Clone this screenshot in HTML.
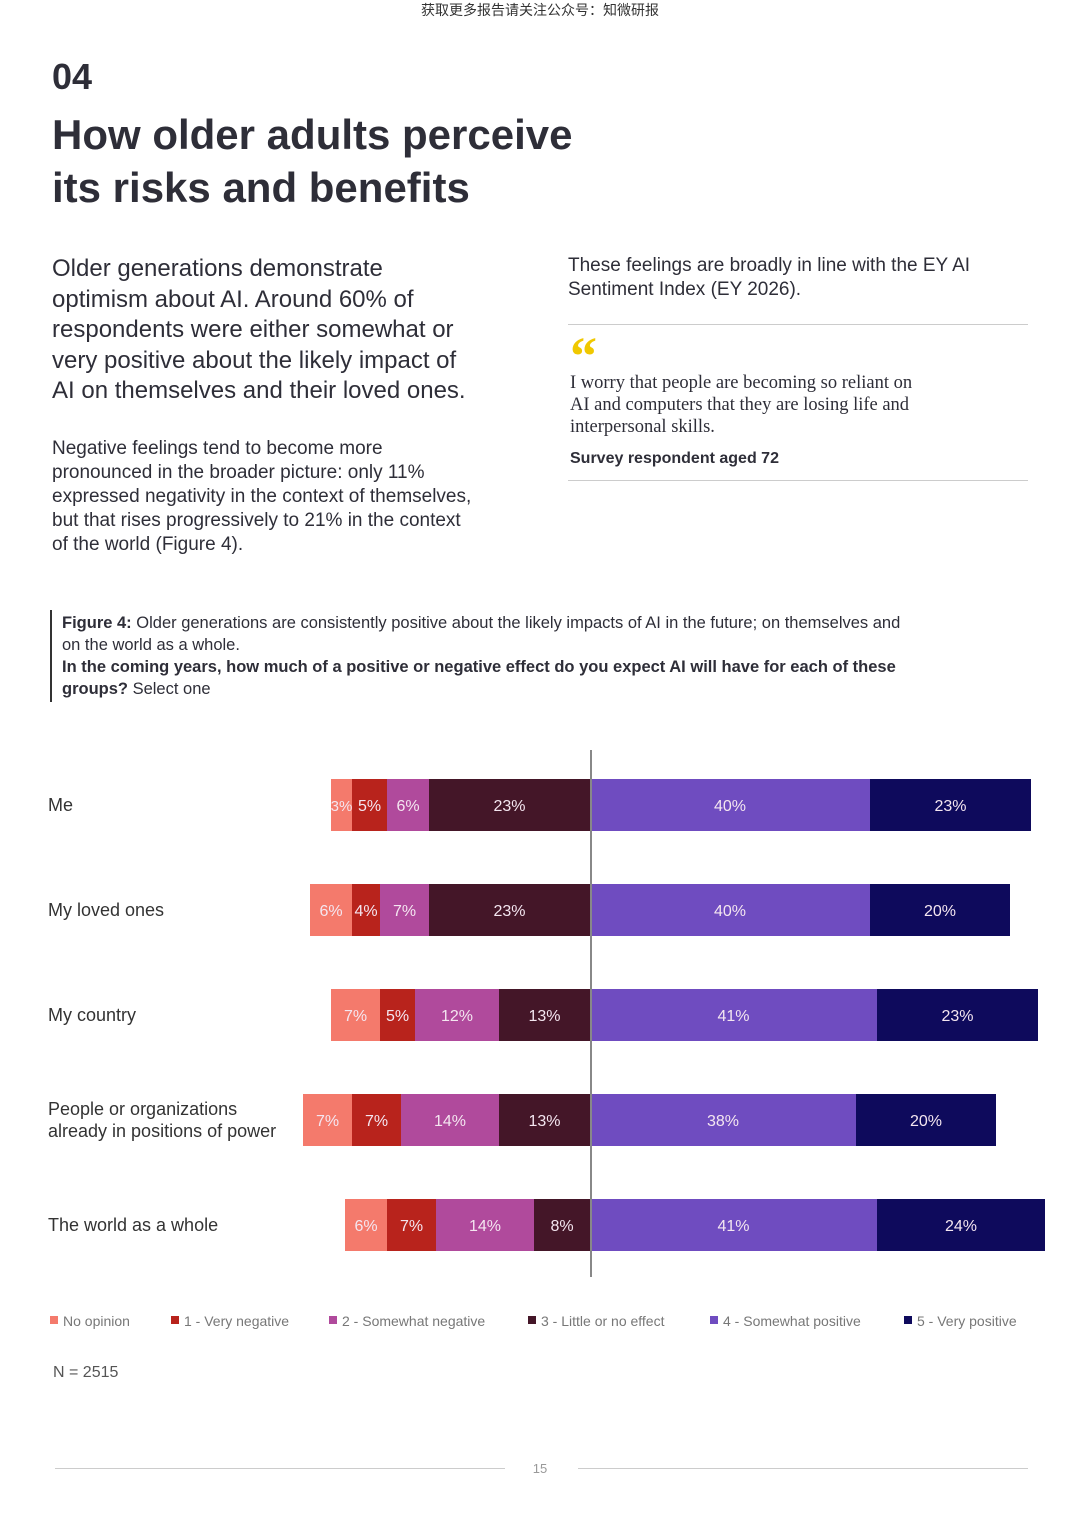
<!DOCTYPE html>
<html><head><meta charset="utf-8"><style>
*{margin:0;padding:0;box-sizing:border-box}
body{width:1080px;height:1527px;background:#fff;font-family:"Liberation Sans","Noto Sans CJK SC",sans-serif;color:#2e2e38;position:relative;overflow:hidden}
.a{position:absolute;white-space:nowrap}
</style></head><body>
<div class="a" style="left:0;width:1080px;top:0;text-align:center;font-size:14px;color:#333">获取更多报告请关注公众号：知微研报</div>
<div class="a" style="left:52px;top:56px;font-size:36px;font-weight:bold">04</div>
<div class="a" style="left:52px;top:108px;font-size:42px;font-weight:bold;line-height:53px">How older adults perceive<br>its risks and benefits</div>
<div class="a" style="left:52px;top:254px;font-size:24px;line-height:30.5px">Older generations demonstrate<br>optimism about AI. Around 60% of<br>respondents were either somewhat or<br>very positive about the likely impact of<br>AI on themselves and their loved ones.</div>
<div class="a" style="left:52px;top:437px;font-size:19px;line-height:24px">Negative feelings tend to become more<br>pronounced in the broader picture: only 11%<br>expressed negativity in the context of themselves,<br>but that rises progressively to 21% in the context<br>of the world (Figure 4).</div>
<div class="a" style="left:568px;top:254px;font-size:19px;line-height:24px">These feelings are broadly in line with the EY AI<br>Sentiment Index (EY 2026).</div>
<div class="a" style="left:568px;top:324px;width:460px;height:1px;background:#ccc"></div>
<div class="a" style="left:570px;top:326px;font-size:54px;font-weight:bold;color:#f0c800;font-family:'Liberation Serif',serif;line-height:60px">“</div>
<div class="a" style="left:570px;top:372px;font-family:'Liberation Serif',serif;font-size:18.5px;line-height:22px">I worry that people are becoming so reliant on<br>AI and computers that they are losing life and<br>interpersonal skills.</div>
<div class="a" style="left:570px;top:450px;font-size:16px;font-weight:bold">Survey respondent aged 72</div>
<div class="a" style="left:568px;top:480px;width:460px;height:1px;background:#ccc"></div>
<div class="a" style="left:50px;top:610px;width:2px;height:92px;background:#333"></div>
<div class="a" style="left:62px;top:612px;font-size:16.5px;line-height:22px"><b>Figure 4:</b> Older generations are consistently positive about the likely impacts of AI in the future; on themselves and<br>on the world as a whole.<br><b>In the coming years, how much of a positive or negative effect do you expect AI will have for each of these<br>groups?</b> Select one</div>
<svg class="a" style="left:0;top:730px" width="1080" height="660" id="chart"></svg>
<div class="a" style="left:53px;top:1364px;font-size:16px;color:#555">N = 2515</div>
<div class="a" style="left:55px;top:1468px;width:450px;height:1px;background:#ccc"></div>
<div class="a" style="left:578px;top:1468px;width:450px;height:1px;background:#ccc"></div>
<div class="a" style="left:520px;width:40px;top:1461px;text-align:center;font-size:13px;color:#999">15</div>
<script>
const categories=["Me","My loved ones","My country","People or organizations|already in positions of power","The world as a whole"];
const noOpinion=[3,6,7,7,6];
const veryNeg=[5,4,5,7,7];
const someNeg=[6,7,12,14,14];
const little=[23,23,13,13,8];
const somePos=[40,40,41,38,41];
const veryPos=[23,20,23,20,24];
const seriesNames=["No opinion","1 - Very negative","2 - Somewhat negative","3 - Little or no effect","4 - Somewhat positive","5 - Very positive"];
const colors=["#f47a6c","#b8231c","#b04a9c","#441628","#6f4cc0","#0e0a5c"];
const svg=document.getElementById('chart');
const NS="http://www.w3.org/2000/svg";
const cx=590,k=7;
const x=v=>cx+v*k;
const yC=i=>75+i*105;
function mk(t,a){const e=document.createElementNS(NS,t);for(const n in a)e.setAttribute(n,a[n]);svg.appendChild(e);return e;}
categories.forEach((c,i)=>{
  const lab=mk('text',{x:48,y:yC(i)+6,'font-size':18,fill:'#333'});
  
  
  const parts=c.split('|');
  if(parts.length>1){parts.forEach((p,j)=>{const ts=document.createElementNS(NS,'tspan');ts.setAttribute('x',48);ts.setAttribute('y',yC(i)-5+j*22);ts.textContent=p;lab.appendChild(ts);});}
  else lab.textContent=c;
  const neg=[noOpinion[i],veryNeg[i],someNeg[i],little[i]];
  let pos=-neg.reduce((a,b)=>a+b,0);
  const segs=[...neg,somePos[i],veryPos[i]];
  segs.forEach((v,j)=>{
    const r=mk('rect',{x:x(pos),y:yC(i)-26,width:v*k,height:52,fill:colors[j]});
    
    
    const t=mk('text',{x:x(pos+v/2),y:yC(i)+6,'text-anchor':'middle','font-size':v<4?15:16,fill:'#f4e6f0'});
    
    
    t.textContent=v+'%';
    pos+=v;
  });
});
const ax=mk('line',{x1:cx+1,x2:cx+1,y1:20,y2:547,stroke:'#888','stroke-width':2});


const lx=[50,171,329,528,710,904];
seriesNames.forEach((n,j)=>{
  const r=mk('rect',{x:lx[j],y:586,width:8,height:8,fill:colors[j]});
  
  
  const t=mk('text',{x:lx[j]+13,y:596,'font-size':14,fill:'#777'});
  
  
  t.textContent=n;
});
</script>
</body></html>
